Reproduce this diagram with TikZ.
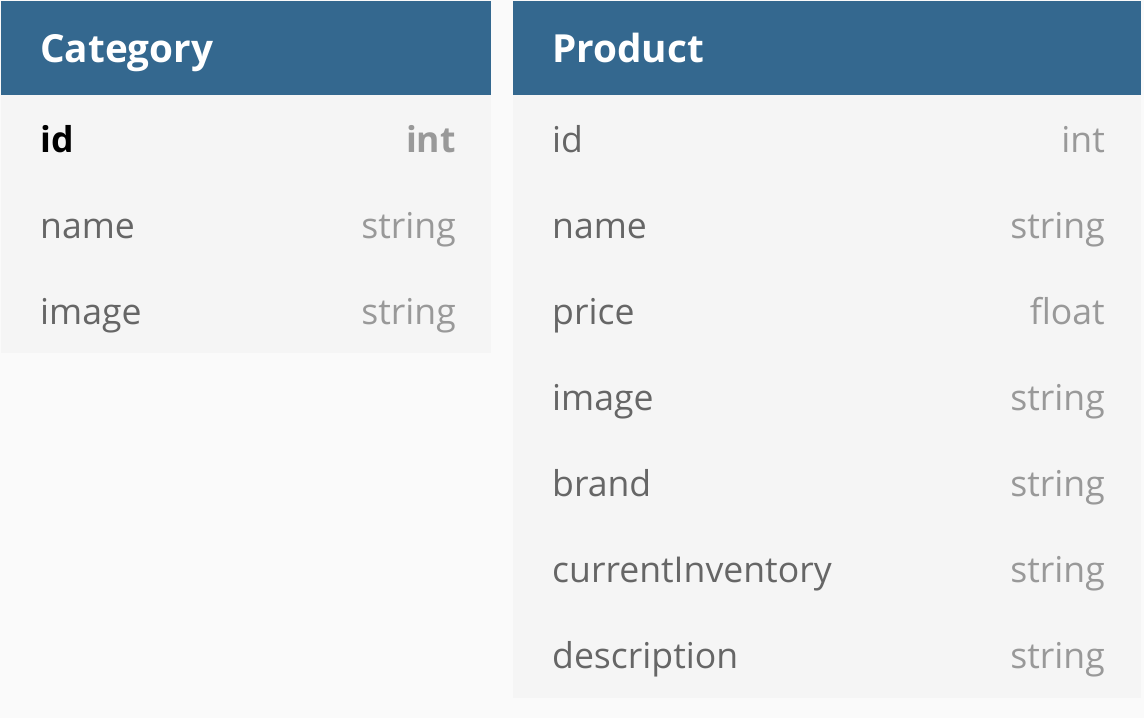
\documentclass[tikz,border=0pt]{standalone}
\usepackage{fontspec}
\setmainfont{Open Sans}
\definecolor{hdr}{HTML}{34688F}
\definecolor{body}{HTML}{F5F5F5}
\definecolor{bg}{HTML}{FAFAFA}
\definecolor{fname}{HTML}{666666}
\definecolor{ftype}{HTML}{999999}
\tikzset{
  x=1pt, y=-1pt,
  hdrbox/.style={fill=hdr, draw=none},
  bodybox/.style={fill=body, draw=none},
  title/.style={anchor=base west, inner sep=0pt, text=white, font=\fontsize{38.7}{44}\selectfont\bfseries},
  fld/.style={anchor=base west, inner sep=0pt, text=fname, font=\fontsize{35.6}{42}\selectfont},
  typ/.style={anchor=base east, inner sep=0pt, text=ftype, font=\fontsize{35.6}{42}\selectfont},
}
\begin{document}
\begin{tikzpicture}
\fill[bg] (0,0) rectangle (1144,718);
\useasboundingbox (0,0) rectangle (1144,718);
% Category table
\fill[bodybox] (1,95) rectangle (491,353);
\fill[hdrbox] (1,1) rectangle (491,95);
\node[title] (cat) at (40,62) {Category};
\node[fld, text=black, font=\fontsize{35.6}{42}\selectfont\bfseries] (cid) at (40,152) {id};
\node[typ, font=\fontsize{35.6}{42}\selectfont\bfseries] (cidt) at (456,152) {int};
\node[fld] (cname) at (40,238) {name};
\node[typ] (cnamet) at (456,238) {string};
\node[fld] (cimg) at (40,324) {image};
\node[typ] (cimgt) at (456,324) {string};
% Product table
\fill[bodybox] (513,95) rectangle (1141,698);
\fill[hdrbox] (513,1) rectangle (1141,95);
\node[title] (prod) at (552,62) {Product};
\node[fld] (pid) at (552,152) {id};
\node[typ] (pidt) at (1105,152) {int};
\node[fld] (pname) at (552,238) {name};
\node[typ] (pnamet) at (1105,238) {string};
\node[fld] (pprice) at (552,324) {price};
\node[typ] (ppricet) at (1105,324) {float};
\node[fld] (pimg) at (552,410) {image};
\node[typ] (pimgt) at (1105,410) {string};
\node[fld] (pbrand) at (552,496) {brand};
\node[typ] (pbrandt) at (1105,496) {string};
\node[fld] (pinv) at (552,582) {currentInventory};
\node[typ] (pinvt) at (1105,582) {string};
\node[fld] (pdesc) at (552,668) {description};
\node[typ] (pdesct) at (1105,668) {string};
\end{tikzpicture}
\end{document}
